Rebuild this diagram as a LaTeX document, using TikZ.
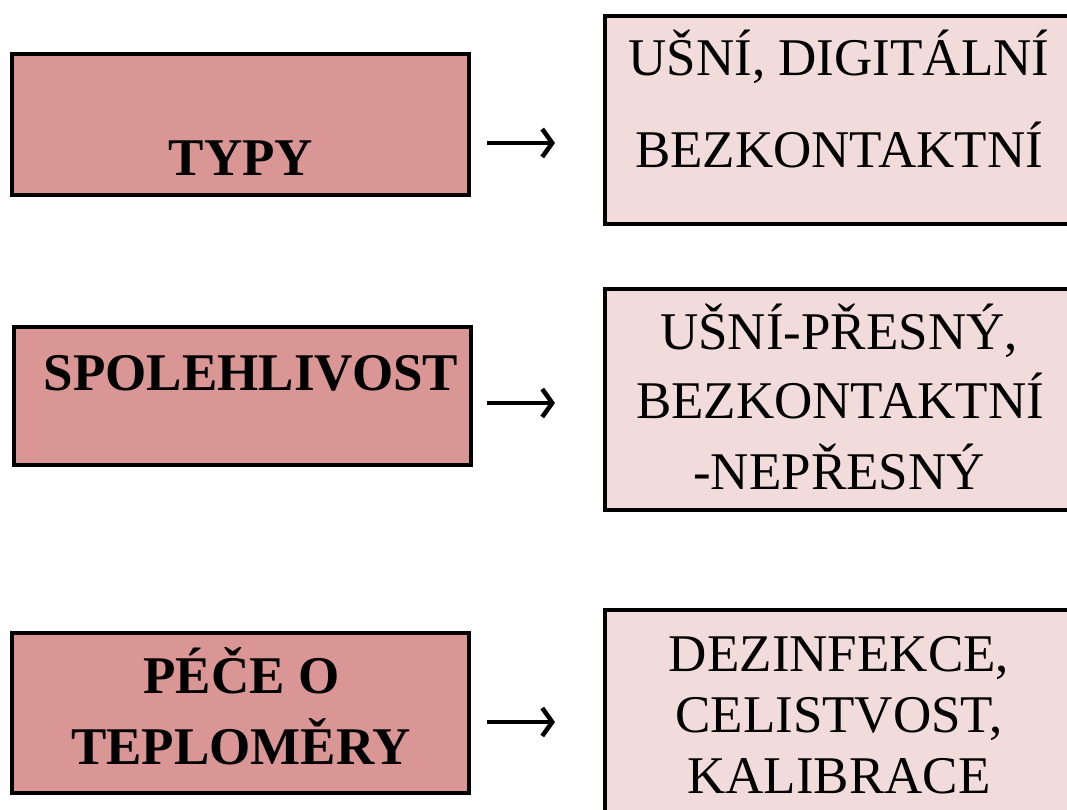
\documentclass[tikz,border=0pt]{standalone}
\usepackage{fontspec}
\setmainfont{Liberation Serif}
\usetikzlibrary{arrows.meta, positioning}
\definecolor{boxrose}{RGB}{217, 150, 148}
\definecolor{boxpale}{RGB}{242, 220, 219}
\tikzset{
    headbox/.style={rectangle, draw=black, fill=boxrose, line width=4pt, inner sep=0pt},
    infobox/.style={rectangle, draw=black, fill=boxpale, line width=4pt, inner sep=0pt},
    headtext/.style={anchor=base, inner sep=0pt, font=\fontsize{53}{60}\selectfont\bfseries},
    infotext/.style={anchor=base, inner sep=0pt, font=\fontsize{53}{60}\selectfont},
    arrow/.style={-{Straight Barb[length=10pt, width=28pt, line width=4.5pt]}, black, line width=3.5pt}
}
\begin{document}
\begin{tikzpicture}[x=1pt, y=-1pt]
            \useasboundingbox (0,0) rectangle (1067,809);
            % left column
            \node (typy) [headbox, minimum width=457pt, minimum height=141pt] at (240.5,124.5) {};
            \node (spol) [headbox, minimum width=457pt, minimum height=138pt] at (242.5,396) {};
            \node (pece) [headbox, minimum width=457pt, minimum height=160pt] at (240.5,713) {};
            % right column
            \node (druhy) [infobox, minimum width=470pt, minimum height=208pt] at (840,120) {};
            \node (presnost) [infobox, minimum width=470pt, minimum height=221pt] at (840,399.5) {};
            \node (udrzba) [infobox, minimum width=470pt, minimum height=210pt] at (840,715) {};

            \node (typyt) [headtext] at (241,175) {TYPY};
            \node (spolt) [headtext] at (251,390) {SPOLEHLIVOST};
            \node (pecea) [headtext] at (241.5,693) {PÉČE O};
            \node (peceb) [headtext] at (241,764) {TEPLOMĚRY};

            \node (druhya) [infotext] at (839,75) {UŠNÍ, DIGITÁLNÍ};
            \node (druhyb) [infotext] at (839,167) {BEZKONTAKTNÍ};
            \node (presa) [infotext] at (839,349) {UŠNÍ-PŘESNÝ,};
            \node (presb) [infotext] at (840,418) {BEZKONTAKTNÍ};
            \node (presc) [infotext] at (839,489) {-NEPŘESNÝ};
            \node (udra) [infotext] at (839,671) {DEZINFEKCE,};
            \node (udrb) [infotext] at (839,732) {CELISTVOST,};
            \node (udrc) [infotext] at (839,793) {KALIBRACE};

            \coordinate (a1) at (487,143);
            \coordinate (b1) at (555,143);
            \coordinate (a2) at (487,403);
            \coordinate (b2) at (555,403);
            \coordinate (a3) at (487,722);
            \coordinate (b3) at (555,722);
            \draw [arrow] (a1) -- (b1);
            \draw [arrow] (a2) -- (b2);
            \draw [arrow] (a3) -- (b3);
        \end{tikzpicture}
\end{document}
